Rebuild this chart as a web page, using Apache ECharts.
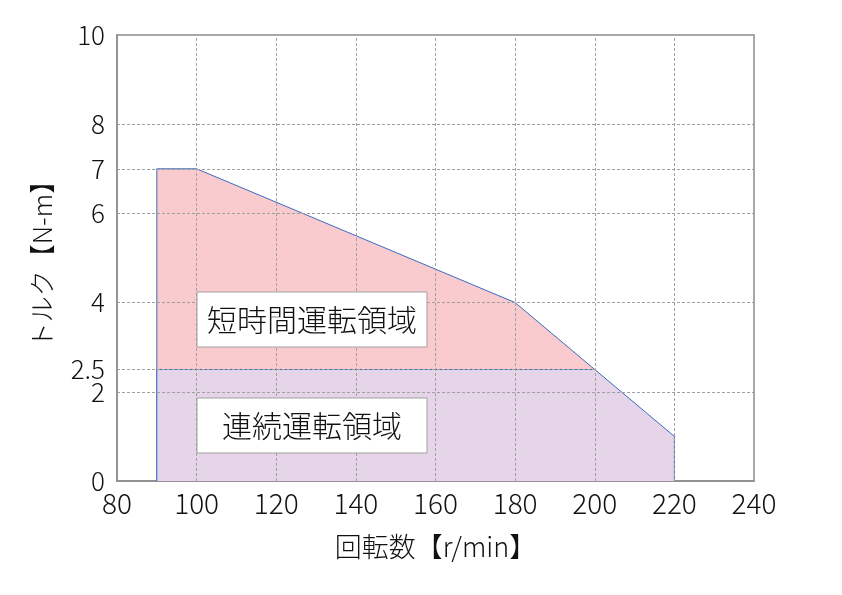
<!DOCTYPE html>
<html>
<head>
<meta charset="utf-8">
<script src="https://cdn.jsdelivr.net/npm/echarts@6/dist/echarts.min.js"></script>
<style>
html, body { margin: 0; padding: 0; background: #fff; }
#main { width: 842px; height: 595px; }
</style>
</head>
<body>
<div id="main"></div>
<script>
// 短時間運転領域 の外形 [回転数, トルク]
var shortTimeEdge = [[90, 0], [90, 7], [100, 7], [180, 4], [200, 2.5]];
// 連続運転領域 の外形
var contEdge = [[90, 0], [90, 2.5], [200, 2.5], [220, 1], [220, 0]];
var yTicks = [0, 2, 2.5, 4, 6, 7, 8, 10];
var xGrid = [100, 120, 140, 160, 180, 200, 220];
var yGrid = [2, 4, 6, 7, 8];
var regionLabels = ['短時間運転領域', '連続運転領域'];

var FONT = '"Noto Sans CJK JP", "Noto Sans", sans-serif';
var myChart = echarts.init(document.getElementById('main'));

var gridLines = [];
xGrid.forEach(function (v) { gridLines.push({ xAxis: v }); });
yGrid.forEach(function (v) { gridLines.push({ yAxis: v }); });
gridLines.push([{ coord: [80, 2.5] }, { coord: [200, 2.5] }]);

function labelBox(text, top) {
	return [
		{ type: 'rect', z: 100, shape: { x: 197, y: top, width: 230, height: 55 }, style: { fill: '#fff', stroke: '#a0a0a0', lineWidth: 1 } },
		{ type: 'text', z: 101, x: 312, y: top + 28, style: { text: text, font: '300 30px ' + FONT, fill: '#111', align: 'center', verticalAlign: 'middle' } }
	];
}

var option = {
	animation: false,
	grid: { left: 117, right: 88, top: 35, bottom: 114, show: true, borderColor: '#8c8c8c', borderWidth: 1.5 },
	xAxis: {
		type: 'value',
		min: 80,
		max: 240,
		interval: 20,
		name: '回転数【r/min】',
		nameLocation: 'middle',
		nameGap: 52,
		nameTextStyle: { fontFamily: FONT, fontWeight: 300, fontSize: 27, color: '#111' },
		axisLine: { lineStyle: { color: '#8c8c8c', width: 1.5 } },
		axisTick: { show: false },
		axisLabel: { fontFamily: FONT, fontWeight: 300, fontSize: 28, color: '#111', margin: 8 },
		splitLine: { show: false }
	},
	yAxis: {
		type: 'value',
		min: 0,
		max: 10,
		name: 'トルク【N-m】',
		nameLocation: 'middle',
		nameGap: 62,
		nameRotate: 90,
		nameTextStyle: { fontFamily: FONT, fontWeight: 300, fontSize: 26, color: '#111' },
		axisLine: { show: true, lineStyle: { color: '#8c8c8c', width: 1.5 } },
		axisTick: { show: false },
		axisLabel: { fontFamily: FONT, fontWeight: 300, fontSize: 26, color: '#111', margin: 12, customValues: yTicks },
		splitLine: { show: false }
	},
	series: [
		{
			name: regionLabels[0],
			type: 'line',
			data: shortTimeEdge,
			symbol: 'none',
			lineStyle: { color: '#3a6cc0', width: 1 },
			areaStyle: { color: '#f9cbcf', opacity: 1 },
			z: 2
		},
		{
			name: regionLabels[1],
			type: 'line',
			data: contEdge,
			symbol: 'none',
			lineStyle: { color: '#3a6cc0', width: 1 },
			areaStyle: { color: '#e6d5e8', opacity: 1 },
			z: 3,
			markLine: {
				silent: true,
				symbol: 'none',
				label: { show: false },
				lineStyle: { color: '#a0a0a0', type: [3, 2], width: 1 },
				data: gridLines,
				z: 5
			}
		}
	],
	graphic: { elements: labelBox(regionLabels[0], 292).concat(labelBox(regionLabels[1], 398)) }
};
myChart.setOption(option);
</script>
</body>
</html>
